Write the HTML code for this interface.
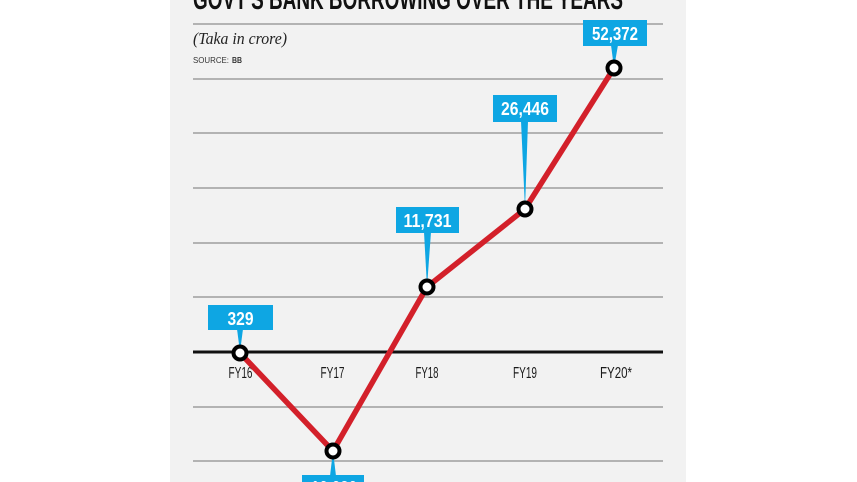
<!DOCTYPE html>
<html>
<head>
<meta charset="utf-8">
<style>
  html,body{margin:0;padding:0;background:#fff;}
  body{width:857px;height:482px;overflow:hidden;}
  svg{display:block;}
</style>
</head>
<body>
<svg width="857" height="482" viewBox="0 0 857 482" xmlns="http://www.w3.org/2000/svg">
  <rect x="0" y="0" width="857" height="482" fill="#ffffff"/>
  <rect x="170" y="0" width="516" height="482" fill="#f2f2f2"/>

  <!-- Title (cut off at top) -->
  <text x="193" y="9" font-family="'Liberation Sans Narrow','Liberation Sans',sans-serif" font-weight="bold" font-size="29" fill="#111" textLength="430" lengthAdjust="spacingAndGlyphs">GOVT'S BANK BORROWING OVER THE YEARS</text>

  <!-- Gridlines -->
  <g stroke="#b3b3b3" stroke-width="2">
    <line x1="193" y1="24" x2="663" y2="24"/>
    <line x1="193" y1="79" x2="663" y2="79"/>
    <line x1="193" y1="133" x2="663" y2="133"/>
    <line x1="193" y1="188" x2="663" y2="188"/>
    <line x1="193" y1="243" x2="663" y2="243"/>
    <line x1="193" y1="297" x2="663" y2="297"/>
    <line x1="193" y1="407" x2="663" y2="407"/>
    <line x1="193" y1="461" x2="663" y2="461"/>
  </g>
  <line x1="193" y1="352" x2="663" y2="352" stroke="#111" stroke-width="3"/>

  <!-- Subtitle / source -->
  <text x="193" y="44" font-family="'Liberation Serif',serif" font-style="italic" font-size="16.5" fill="#222" textLength="94" lengthAdjust="spacingAndGlyphs">(Taka in crore)</text>
  <text x="193" y="63" font-family="'Liberation Sans',sans-serif" font-size="8.5" fill="#333" textLength="36" lengthAdjust="spacingAndGlyphs">SOURCE:</text>
  <text x="232" y="63" font-family="'Liberation Sans',sans-serif" font-weight="bold" font-size="8.5" fill="#333" textLength="10" lengthAdjust="spacingAndGlyphs">BB</text>

  <!-- X axis labels -->
  <g font-family="'Liberation Sans Narrow','Liberation Sans',sans-serif" font-size="15.5" fill="#1a1a1a" text-anchor="middle">
    <text x="240.5" y="378" textLength="24" lengthAdjust="spacingAndGlyphs">FY16</text>
    <text x="332.5" y="378" textLength="24" lengthAdjust="spacingAndGlyphs">FY17</text>
    <text x="427" y="378" textLength="23" lengthAdjust="spacingAndGlyphs">FY18</text>
    <text x="525" y="378" textLength="24" lengthAdjust="spacingAndGlyphs">FY19</text>
    <text x="616" y="378" textLength="32" lengthAdjust="spacingAndGlyphs">FY20*</text>
  </g>

  <!-- Label boxes & pointers -->
  <g fill="#0ea6e3">
    <rect x="208" y="305" width="65" height="25"/>
    <polygon points="237,329 243,329 240,352"/>
    <rect x="396" y="207" width="63" height="26"/>
    <polygon points="424,232 431,232 427,287"/>
    <rect x="493" y="95" width="64" height="27"/>
    <polygon points="521,121 528,121 525,209"/>
    <rect x="583" y="20" width="64" height="26"/>
    <polygon points="611,45 618,45 614,68"/>
    <rect x="302" y="475" width="62" height="20"/>
    <polygon points="330,476 336,476 333,451"/>
  </g>

  <g font-family="'Liberation Sans Narrow','Liberation Sans',sans-serif" font-weight="bold" font-size="18" fill="#ffffff" text-anchor="middle">
    <text x="240.5" y="325" textLength="26" lengthAdjust="spacingAndGlyphs">329</text>
    <text x="427.5" y="227" textLength="48" lengthAdjust="spacingAndGlyphs">11,731</text>
    <text x="525" y="115" textLength="48" lengthAdjust="spacingAndGlyphs">26,446</text>
    <text x="615" y="40" textLength="46" lengthAdjust="spacingAndGlyphs">52,372</text>
    <text x="334" y="494" textLength="46" lengthAdjust="spacingAndGlyphs">10,030</text>
  </g>

  <!-- Series line -->
  <polyline points="240,353 333,451 427,287 525,209 614,68" fill="none" stroke="#d3202a" stroke-width="5.5" stroke-linejoin="miter"/>

  <!-- Markers -->
  <g fill="#ffffff" stroke="#000" stroke-width="4">
    <circle cx="240" cy="353" r="6.5"/>
    <circle cx="333" cy="451" r="6.5"/>
    <circle cx="427" cy="287" r="6.5"/>
    <circle cx="525" cy="209" r="6.5"/>
    <circle cx="614" cy="68" r="6.5"/>
  </g>
</svg>
</body>
</html>
